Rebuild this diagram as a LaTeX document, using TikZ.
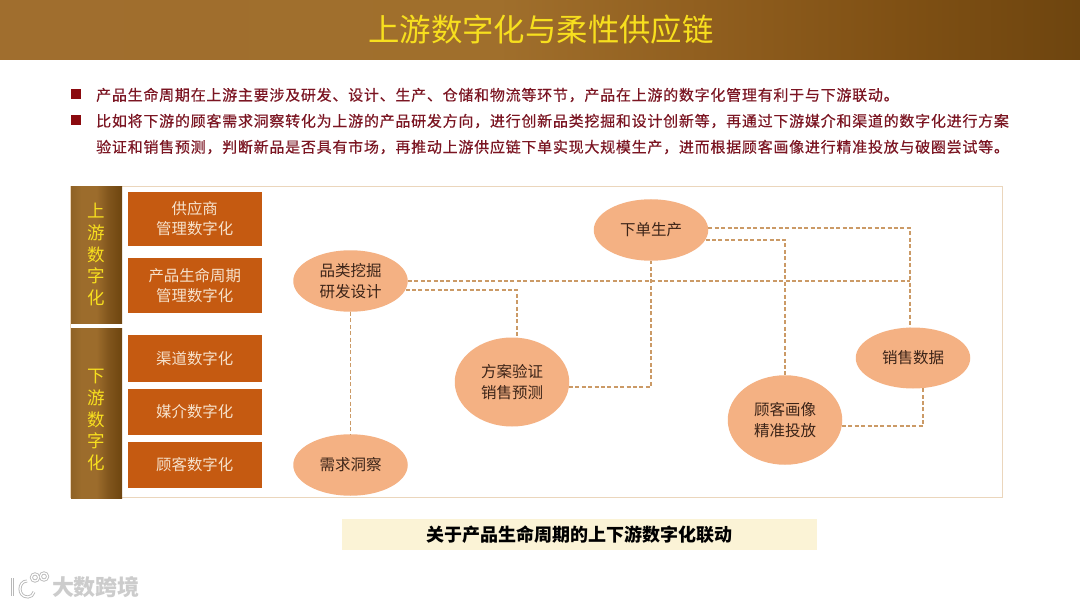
\documentclass[tikz,border=0pt]{standalone}
\usepackage{fontspec}
\usetikzlibrary{shapes.geometric}
\setmainfont{Noto Sans CJK SC}
\newfontfamily\spaced[LetterSpace=5,FakeBold=0.4]{Noto Sans CJK SC}
\definecolor{bodyred}{HTML}{7B1522}
\definecolor{bulletred}{HTML}{8B0A0F}
\definecolor{boxor}{HTML}{C55A11}
\definecolor{ellor}{HTML}{F4B183}
\definecolor{dashc}{HTML}{CB9A66}
\definecolor{framec}{HTML}{EBD6BC}
\definecolor{yell}{HTML}{F7DF1E}
\definecolor{cream}{HTML}{F6E2CC}
\definecolor{inkc}{HTML}{3C2418}
\definecolor{capfill}{HTML}{FBF3D6}
\definecolor{gA}{HTML}{A06E2E}
\definecolor{gB}{HTML}{A06F2C}
\definecolor{gC}{HTML}{915F1F}
\definecolor{gD}{HTML}{7F5014}
\definecolor{gE}{HTML}{6E450F}
\definecolor{gF}{HTML}{9C6C2C}
\definecolor{gG}{HTML}{80551C}
\definecolor{gH}{HTML}{8F6226}
\pgfdeclarehorizontalshading{headshade}{100bp}{color(0bp)=(gA);color(25bp)=(gA);color(48bp)=(gB);color(57.4bp)=(gC);color(66.7bp)=(gD);color(75bp)=(gE);color(100bp)=(gE)}
\pgfdeclarehorizontalshading{sideshade}{100bp}{color(0bp)=(gH);color(25bp)=(gH);color(35bp)=(gF);color(50bp)=(gF);color(62bp)=(gG);color(75bp)=(gE);color(100bp)=(gE)}
\tikzset{
  x=1pt,y=-1pt,
  headband/.style={shading=headshade,draw=none},
  sidebar/.style={shading=sideshade,draw=none},
  sidelabel/.style={inner sep=0pt,text=yell,align=center,font=\fontsize{17.5}{21.7}\selectfont},
  orbox/.style={rectangle,fill=boxor,draw=none,inner sep=0pt,minimum width=134pt,text=cream,align=center,font=\fontsize{15.4}{20}\selectfont},
  oval/.style={ellipse,fill=ellor,draw=none,inner sep=0pt,minimum width=114.5pt,text=inkc,align=center,font=\fontsize{15.5}{20.5}\selectfont},
  link/.style={draw=dashc,line width=1.9pt,dash pattern=on 4pt off 2.4pt},
  bodyline/.style={anchor=west,inner sep=0pt,text=bodyred,font=\spaced\fontsize{15}{20}\selectfont},
  bulletsq/.style={rectangle,fill=bulletred,inner sep=0pt,minimum size=10pt},
  wmark/.style={draw=black!28,line width=3pt},
  wcore/.style={draw=white,line width=1.3pt}
}
\begin{document}
\begin{tikzpicture}
\useasboundingbox (0,0) rectangle (1080,607);
\fill[white] (0,0) rectangle (1080,607);
% header
\shade[headband] (0,0) rectangle (1080,60);
\node[inner sep=0pt,text=yell,font=\fontsize{31.4}{34}\selectfont] (title) at (541,30) {上游数字化与柔性供应链};
% bullets
\node[bulletsq] (b1) at (76,94) {};
\node[bulletsq] (b2) at (76,120) {};
\node[bodyline] (l1) at (96,95) {产品生命周期在上游主要涉及研发、设计、生产、仓储和物流等环节，产品在上游的数字化管理有利于与下游联动。};
\node[bodyline] (l2) at (96,121) {比如将下游的顾客需求洞察转化为上游的产品研发方向，进行创新品类挖掘和设计创新等，再通过下游媒介和渠道的数字化进行方案};
\node[bodyline] (l3) at (96,147) {验证和销售预测，判断新品是否具有市场，再推动上游供应链下单实现大规模生产，进而根据顾客画像进行精准投放与破圈尝试等。};
% frame
\draw[framec,line width=1.4pt] (70.5,186.5) rectangle (1002.5,497.5);
% side bars
\shade[sidebar] (71,187) rectangle (122,323);
\shade[sidebar] (71,328) rectangle (122,498);
\node[sidelabel] (up) at (96.5,254.5) {上\\游\\数\\字\\化};
\node[sidelabel] (down) at (96.5,420) {下\\游\\数\\字\\化};
% boxes
\node[orbox,minimum height=54.5pt] (s1) at (194.7,219) {供应商\\管理数字化};
\node[orbox,minimum height=54.5pt] (s2) at (194.7,285.5) {产品生命周期\\管理数字化};
\node[orbox,minimum height=46.5pt] (s3) at (194.7,358.5) {渠道数字化};
\node[orbox,minimum height=46pt] (s4) at (194.7,411.7) {媒介数字化};
\node[orbox,minimum height=46pt] (s5) at (194.7,464.7) {顾客数字化};
% ovals
\node[oval,minimum height=61.5pt] (pl) at (350.5,281) {品类挖掘\\研发设计};
\node[oval,minimum height=61.5pt] (xq) at (350.5,465) {需求洞察};
\node[oval,minimum height=89pt] (fa) at (512,382) {方案验证\\销售预测};
\node[oval,minimum height=61.5pt] (xd) at (651,230) {下单生产};
\node[oval,minimum height=61pt] (xs) at (913,358) {销售数据};
\node[oval,minimum height=89.5pt] (gk) at (785,420) {顾客画像\\精准投放};
% connectors
\coordinate (jn) at (910,281);
\draw[link] (pl.south) -- (xq.north);
\draw[link] (pl.east) -- (jn);
\draw[link] (pl.-9.7) -| (fa.84);
\draw[link] (fa.-5.7) -| (xd.south);
\draw[link] (xd.2.3) -| (xs.96);
\draw[link] (xd.-10) -| (gk.north);
\draw[link] (gk.-6.7) -| (xs.-71.6);
% caption
\node[rectangle,fill=capfill,inner sep=0pt,minimum width=475pt,minimum height=31pt,text=black,font=\fontsize{18}{20}\selectfont\bfseries] (cap) at (579.5,534.5) {关于产品生命周期的上下游数字化联动};
% watermark logo
\foreach \sty in {wmark,wcore}{
  \draw[\sty] (12.5,578) -- (12.5,596);
  \draw[\sty] (27,581) .. controls (18,581) and (17,597) .. (28,597) .. controls (31,597) and (33,595) .. (34,592);
  \draw[\sty] (35,577.5) circle[radius=3.6];
  \draw[\sty] (44,576.5) circle[radius=3.6];
}
\node[inner sep=0pt,text=black!20,font=\fontsize{22}{24}\selectfont\bfseries] (wm) at (96,587.5) {大数跨境};
\end{tikzpicture}
\end{document}
